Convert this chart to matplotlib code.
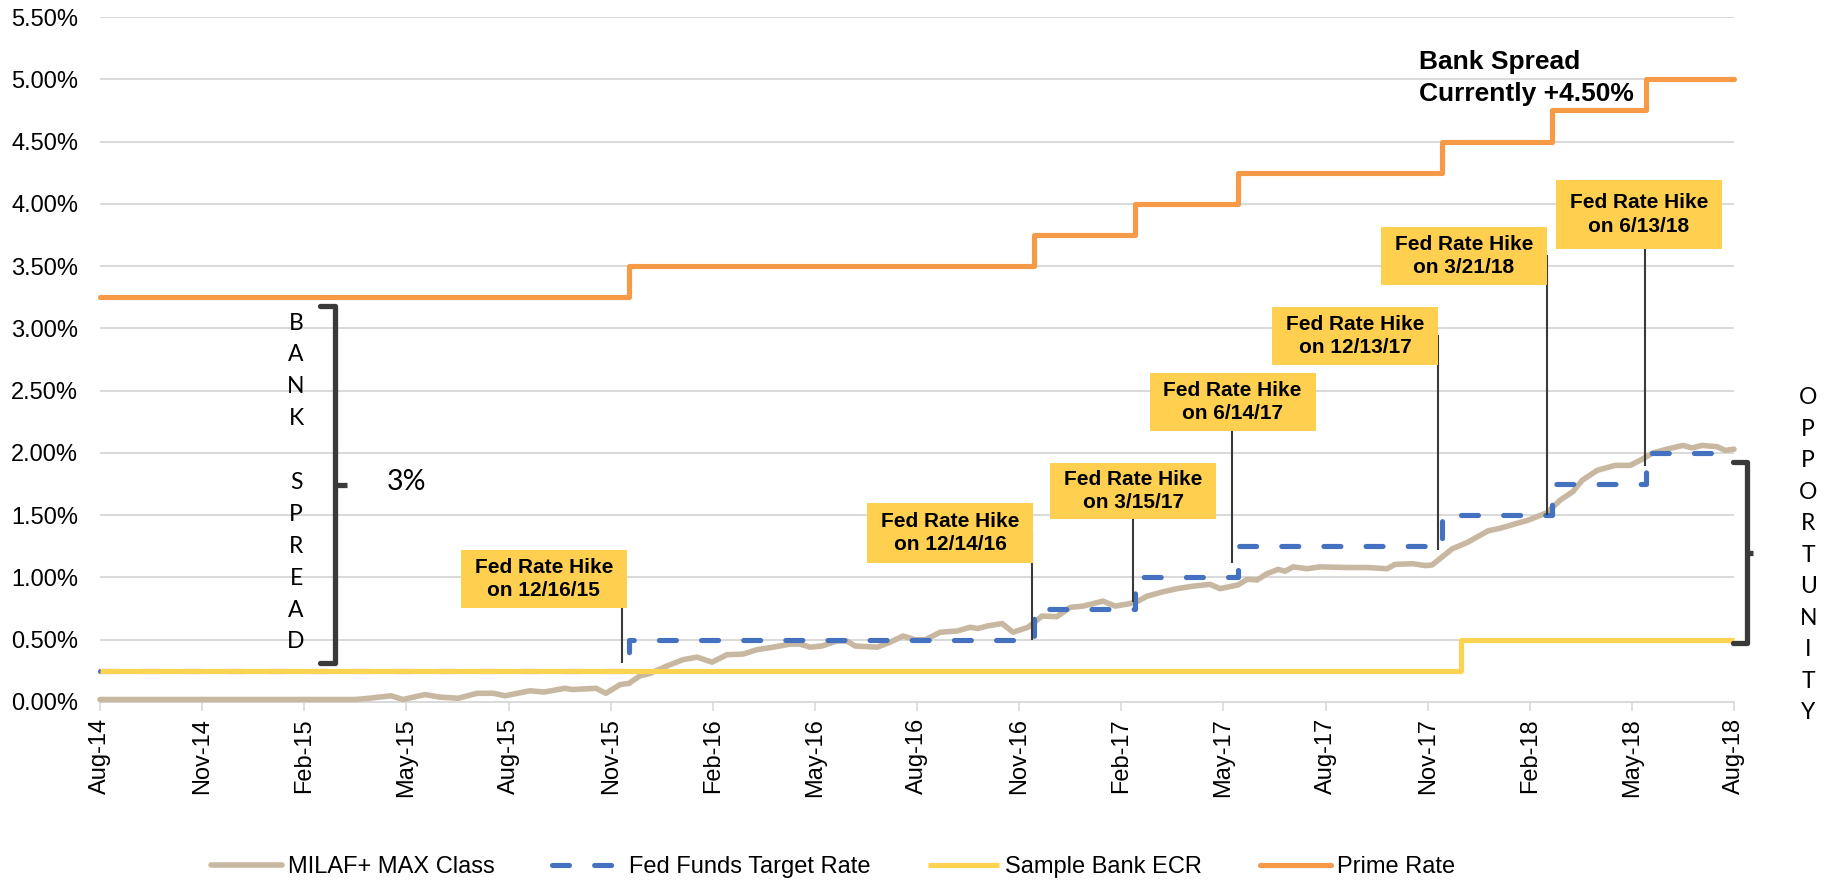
import matplotlib
matplotlib.use("Agg")
import matplotlib.pyplot as plt
from matplotlib.patches import Rectangle
from matplotlib.ticker import FuncFormatter, MultipleLocator

# ---- axis categories: months elapsed since Aug-14 -------------------------
month_ticks = [0, 3, 6, 9, 12, 15, 18, 21, 24, 27, 30, 33, 36, 39, 42, 45, 48]
month_labels = ['Aug-14', 'Nov-14', 'Feb-15', 'May-15', 'Aug-15', 'Nov-15',
                'Feb-16', 'May-16', 'Aug-16', 'Nov-16', 'Feb-17', 'May-17',
                'Aug-17', 'Nov-17', 'Feb-18', 'May-18', 'Aug-18']

# ---- Fed hikes and the step series that follow them -----------------------
hike_labels = ['12/16/15', '12/14/16', '3/15/17', '6/14/17',
               '12/13/17', '3/21/18', '6/13/18']
hike_month = [15.53, 27.44, 30.41, 33.42, 39.43, 42.65, 45.42]
fed_target = [0.25, 0.50, 0.75, 1.00, 1.25, 1.50, 1.75, 2.00]
prime_rate = [3.25, 3.50, 3.75, 4.00, 4.25, 4.50, 4.75, 5.00]

ecr_month = [0, 39.98, 48]
ecr_rate = [0.25, 0.50, 0.50]

milaf_month = [0, 2.0, 4.0, 6.0, 7.5, 7.90, 8.55, 8.90, 9.55, 9.96, 10.52,
               11.08, 11.55, 11.90, 12.63, 13.04, 13.66, 13.87, 14.57, 14.86,
               15.28, 15.54, 15.86, 16.16, 16.66, 17.13, 17.54, 17.98, 18.42,
               18.89, 19.30, 19.77, 20.27, 20.56, 20.86, 21.21, 21.65, 21.94,
               22.18, 22.83, 23.21, 23.59, 23.94, 24.24, 24.68, 25.18, 25.56,
               25.79, 26.06, 26.50, 26.82, 27.26, 27.47, 27.67, 28.11, 28.50,
               28.88, 29.46, 29.82, 30.26, 30.49, 30.76, 31.23, 31.64, 32.11,
               32.61, 32.90, 33.43, 33.70, 33.99, 34.28, 34.61, 34.81, 35.05,
               35.46, 35.84, 36.63, 37.22, 37.81, 38.04, 38.57, 38.93, 39.13,
               39.45, 39.72, 40.16, 40.78, 41.13, 41.57, 41.95, 42.51, 42.89,
               43.27, 43.54, 43.98, 44.51, 44.95, 45.24, 45.62, 46.03, 46.50,
               46.77, 47.06, 47.50, 47.74, 48.0]
milaf_rate = [0.02, 0.02, 0.02, 0.02, 0.02, 0.03, 0.05, 0.02, 0.06, 0.04, 0.03,
              0.07, 0.07, 0.05, 0.09, 0.08, 0.11, 0.10, 0.11, 0.07, 0.14, 0.15,
              0.21, 0.23, 0.29, 0.34, 0.36, 0.32, 0.38, 0.385, 0.42, 0.44,
              0.465, 0.465, 0.44, 0.45, 0.49, 0.49, 0.45, 0.44, 0.48, 0.53,
              0.50, 0.50, 0.56, 0.57, 0.60, 0.59, 0.61, 0.63, 0.56, 0.60,
              0.645, 0.69, 0.685, 0.76, 0.77, 0.81, 0.77, 0.79, 0.81, 0.85,
              0.885, 0.91, 0.93, 0.945, 0.91, 0.94, 0.985, 0.98, 1.03, 1.065,
              1.05, 1.085, 1.07, 1.085, 1.08, 1.08, 1.07, 1.105, 1.11, 1.095,
              1.10, 1.17, 1.23, 1.28, 1.375, 1.395, 1.43, 1.46, 1.52, 1.62,
              1.69, 1.78, 1.86, 1.90, 1.90, 1.94, 2.00, 2.03, 2.06, 2.04, 2.06,
              2.05, 2.02, 2.03]

# ---- annotation layout (data units) ---------------------------------------
box_center = [(13.04, 0.988), (24.97, 1.357), (30.35, 1.694), (33.27, 2.409),
              (36.87, 2.939), (40.07, 3.581), (45.21, 3.914)]
box_height = [0.466, 0.482, 0.450, 0.466, 0.466, 0.466, 0.554]
box_width = 4.877
leader_x = [15.33, 27.38, 30.35, 33.26, 39.31, 42.51, 45.39]
leader_top = [0.755, 1.357, 1.469, 2.176, 2.947, 3.589, 3.637]
leader_bottom = [0.313, 0.498, 0.803, 1.116, 1.220, 1.501, 1.895]

C_MILAF = '#C8B8A1'
C_FED = '#4471C0'
C_ECR = '#FFD352'
C_PRIME = '#F69A48'
C_BOX = '#FFD050'
C_GRID = '#D9D9D9'
C_INK = '#3A3A3A'

SANS = 'Liberation Sans'
ROUND = 'Lato'
plt.rcParams['font.family'] = [SANS, 'DejaVu Sans']

fig = plt.figure(figsize=(18.26, 8.81), dpi=100)
ax = fig.add_axes([100 / 1826, 179 / 881, 1634 / 1826, 685 / 881])

step_x = [0] + hike_month + [48]
fed_y = fed_target + [fed_target[-1]]
prime_y = prime_rate + [prime_rate[-1]]

lw = 3.7
ax.plot(milaf_month, milaf_rate, color=C_MILAF, lw=4.0,
        solid_joinstyle='round', solid_capstyle='round', zorder=3,
        label='MILAF+ MAX Class', clip_on=False)
ax.plot(step_x, fed_y, drawstyle='steps-post', color=C_FED, lw=lw,
        linestyle=(0, (3.3, 4.9)), dash_capstyle='round', zorder=4,
        label='Fed Funds Target Rate', clip_on=False)
ax.plot(ecr_month, ecr_rate, drawstyle='steps-post', color=C_ECR, lw=lw,
        solid_capstyle='butt', zorder=5, label='Sample Bank ECR', clip_on=False)
ax.plot(step_x, prime_y, drawstyle='steps-post', color=C_PRIME, lw=lw,
        solid_joinstyle='round', solid_capstyle='round', zorder=5,
        label='Prime Rate', clip_on=False)

# ---- axes styling ----------------------------------------------------------
ax.set_xlim(0, 48)
ax.set_ylim(0, 5.5)
ax.set_xticks(month_ticks)
ax.set_xticklabels(month_labels, rotation=90, fontsize=17)
ax.yaxis.set_major_locator(MultipleLocator(0.5))
ax.yaxis.set_major_formatter(FuncFormatter(lambda v, _: f'{v:.2f}%'))
ax.tick_params(axis='y', length=0, pad=15.8, labelsize=17, labelcolor='#000000')
ax.tick_params(axis='x', length=6.5, width=1.2, color=C_GRID, pad=5,
               labelcolor='#000000')
ax.grid(axis='y', color=C_GRID, lw=1.4)
ax.set_axisbelow(True)
for side in ('top', 'right', 'left'):
    ax.spines[side].set_visible(False)
ax.spines['bottom'].set_color(C_GRID)
ax.spines['bottom'].set_linewidth(1.4)

# ---- Fed hike call-outs ----------------------------------------------------
for lbl, (cx, cy), bh, lx, lt, lb in zip(hike_labels, box_center, box_height,
                                          leader_x, leader_top, leader_bottom):
    ax.plot([lx, lx], [lt, lb], color=C_INK, lw=1.5, zorder=6,
            solid_capstyle='butt')
    ax.add_patch(Rectangle((cx - box_width / 2, cy - bh / 2), box_width, bh,
                           facecolor=C_BOX, edgecolor='none', zorder=7))
    ax.text(cx, cy, f'Fed Rate Hike\non {lbl}', ha='center', va='center',
            fontsize=15, fontweight='bold', linespacing=1.3, zorder=8,
            color='#000000')

ax.text(38.75, 5.235, 'Bank Spread\nCurrently +4.50%', ha='left', va='top',
        fontsize=19, fontweight='bold', linespacing=1.42, color='#000000',
        zorder=8)

# ---- bank spread bracket ---------------------------------------------------
ax.plot([6.46, 6.90, 6.90, 6.46], [3.179, 3.179, 0.313, 0.313], color=C_INK,
        lw=3.8, solid_joinstyle='round', solid_capstyle='round', zorder=6)
ax.plot([6.90, 7.26], [1.742, 1.742], color=C_INK, lw=3.8,
        solid_capstyle='butt', zorder=6)
for i, ch in enumerate('BANK SPREAD'):
    ax.text(5.76, 3.043 - i * 0.2561, ch, ha='center', va='center',
            fontsize=16.5, family=[ROUND, 'DejaVu Sans'], color='#000000')
ax.text(8.99, 1.77, '3%', ha='center', va='center', fontsize=20.5,
        family=[ROUND, 'DejaVu Sans'], color='#000000')

# ---- opportunity bracket ---------------------------------------------------
ax.plot([47.97, 48.38, 48.38, 47.97], [1.927, 1.927, 0.474, 0.474],
        color=C_INK, lw=3.8, solid_joinstyle='round', solid_capstyle='round',
        zorder=6, clip_on=False)
ax.plot([48.38, 48.56], [1.196, 1.196], color=C_INK, lw=3.8,
        solid_capstyle='butt', zorder=6, clip_on=False)
for i, ch in enumerate('OPPORTUNITY'):
    ax.text(50.18, 2.441 - i * 0.2529, ch, ha='center', va='center',
            fontsize=16.5, family=[ROUND, 'DejaVu Sans'], color='#000000',
            clip_on=False)

# ---- legend ----------------------------------------------------------------
fig.legend(loc='center left', bbox_to_anchor=(211 / 1826, 14 / 881),
           ncol=4, frameon=False, fontsize=17, handlelength=3.0,
           handletextpad=0.25, columnspacing=2.45, borderpad=0,
           borderaxespad=0)

fig.savefig('out.png', dpi=100, facecolor='white')
